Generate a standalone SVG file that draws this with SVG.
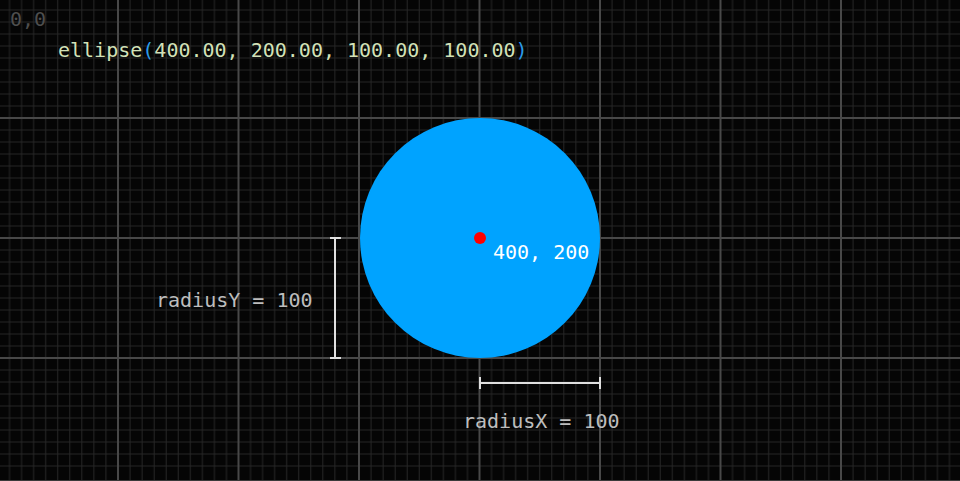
<svg xmlns="http://www.w3.org/2000/svg" width="960" height="481" viewBox="0 0 960 481">
<style>
.mono{font-family:"DejaVu Sans Mono","Liberation Mono",monospace;font-size:20px}
.minor{stroke:#262626;stroke-width:1}
.major{stroke:#484848;stroke-width:2;fill:none}
.dim{stroke:#e0e0e0;stroke-width:2;fill:none}
</style>
<defs>
<pattern id="grid" patternUnits="userSpaceOnUse" x="-2.5" y="-2" width="120.5" height="120">
<path class="minor" d="M12.05 0V120M24.1 0V120M36.15 0V120M48.2 0V120M60.25 0V120M72.3 0V120M84.35 0V120M96.4 0V120M108.45 0V120M0 12H120.5M0 24H120.5M0 36H120.5M0 48H120.5M0 60H120.5M0 72H120.5M0 84H120.5M0 96H120.5M0 108H120.5"/>
</pattern>
</defs>
<rect width="960" height="481" fill="#050505"/>
<rect width="960" height="481" fill="url(#grid)"/>
<path class="major" d="M118 0V481M238.5 0V481M359 0V481M479.5 0V481M600 0V481M720.5 0V481M841 0V481M0 118H960M0 238H960M0 358H960"/>
<line x1="0" y1="480.5" x2="960" y2="480.5" stroke="#3a3a3a" stroke-width="1"/>
<text class="mono" x="10" y="26" fill="#4e4e4e">0,0</text>
<text class="mono" x="58" y="57" fill="#d2e1b8">ellipse<tspan fill="#2b9bea">(</tspan>400.00, 200.00, 100.00, 100.00<tspan fill="#2b9bea">)</tspan></text>
<g id="ellipse">
<circle cx="480" cy="238" r="120" fill="#00a3ff"/>
<circle cx="480" cy="238" r="6" fill="#ff0000"/>
<text class="mono" x="493" y="259" fill="#ffffff">400, 200</text>
</g>
<g id="connectors">
<path class="dim" d="M335 238V358M330 238H341M330 358H341"/>
<path class="dim" d="M480 383H600M480 377V389M600 377V389"/>
</g>
<text class="mono" x="156" y="307" fill="#bdbdbd">radiusY = 100</text>
<text class="mono" x="463" y="428" fill="#bdbdbd">radiusX = 100</text>
</svg>
